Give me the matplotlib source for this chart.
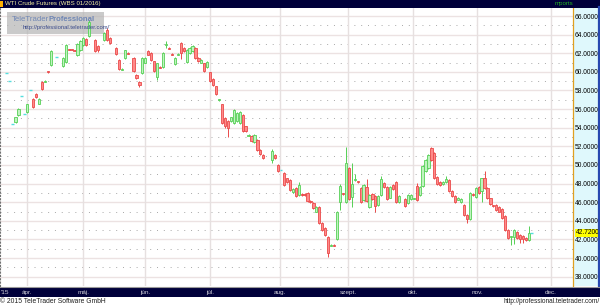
import matplotlib
matplotlib.use('Agg')
import matplotlib.pyplot as plt
from matplotlib.patches import Rectangle
from matplotlib.lines import Line2D
import matplotlib.transforms as mtransforms

# ---------------- data ----------------
title = "WTI Crude Futures (WBS 01/2016)"
days = [0, 1, 2, 3, 4, 5, 6, 7, 8, 9, 10, 11, 12, 13, 14, 15, 17, 19, 20, 21, 22, 23, 24, 25, 26, 27, 28,
        30, 31, 33, 34, 35, 37, 38, 39, 40, 41, 43, 44, 45, 46, 47, 48, 49, 50, 51, 52, 53, 54, 55, 56, 57,
        58, 59, 60, 61, 62, 63, 64, 65, 66, 67, 68, 69, 70, 71, 72, 73, 74, 75, 76, 77, 78, 79, 80, 81, 82,
        83, 84, 85, 86, 87, 90, 91, 92, 93, 94, 95, 96, 97, 98, 99, 100, 101, 102, 103, 104, 105, 106, 107,
        108, 109, 110, 111, 112, 113, 114, 115, 116, 117, 118, 119, 120, 121, 122, 123, 124, 125, 126, 127,
        128, 129, 130, 131, 132, 133, 135, 136, 137, 138, 139, 140, 141, 142, 143, 144, 145, 146, 147, 148,
        149, 150, 151, 152, 153, 154, 155, 156, 157, 158, 159, 160, 161, 162, 163, 164, 165, 166, 167, 168,
        169, 170, 171, 172, 173, 174, 175, 176, 177, 178]
opens = [59.85, 59.0, 54.4, 54.65, 55.4, 57.4, 55.5, 55.7, 58.0, 57.05, 57.6, 56.6, 58.9, 58.95, 60.05, 60.7,
         61.6, 60.6, 61.1, 62.45, 62.45, 62.35, 61.85, 62.3, 62.9, 63.55, 63.8,
         63.45, 62.75, 63.45, 64.5, 63.6, 62.55, 61.3, 60.25, 61.5, 62.05, 61.5, 59.7, 58.9, 59.9, 60.95,
         62.2, 62.0, 61.15, 59.5, 60.55, 60.5, 62.85, 62.6, 61.95, 60.8,
         61.85, 63.1, 62.55, 61.1, 62.0, 62.2, 62.55, 61.5, 60.95, 60.95, 60.5, 59.95, 59.2, 58.45, 56.95,
         56.5, 55.05, 54.7, 54.7, 54.5, 54.7, 54.5, 55.4, 54.15, 53.15,
         53.1, 52.5, 52.7, 51.65, 51.1, 50.5, 51.1, 50.0, 49.45, 49.1, 48.55, 48.4, 47.1, 47.5, 46.8, 46.85,
         46.9, 47.0, 46.1, 45.9, 45.0, 45.45, 43.75,
         43.2, 42.3, 41.35, 41.4, 42.0, 46.05, 46.95, 46.05, 49.65, 46.6, 48.35, 48.25, 47.5, 46.25, 47.6,
         45.5, 46.9, 46.65, 45.7, 46.8,
         48.1, 47.65, 46.5, 47.9, 48.2, 46.05, 46.3, 45.9, 46.3, 46.35, 47.75, 46.8, 47.75, 49.3, 49.65, 51.8,
         51.25, 48.75, 48.2, 47.95,
         48.2, 48.4, 47.25, 46.65, 46.25, 46.0, 45.7, 44.6, 44.15, 46.85, 46.6, 47.6, 47.25, 48.55, 47.5,
         46.4, 45.65, 45.7, 45.5, 45.25,
         44.5, 43.0, 42.25, 42.3, 42.8, 42.5, 42.4, 42.2, 41.95, 42.72]
highs = [59.9, 59.05, 54.45, 55.2, 56.1, 57.45, 55.55, 56.6, 58.05, 57.15, 57.7, 57.2, 59.0, 59.1, 60.1, 62.3,
         61.65, 61.6, 62.95, 62.5, 62.5, 62.4, 63.1, 63.45, 63.7, 63.65, 65.6,
         63.55, 62.85, 64.3, 64.7, 63.7, 62.65, 61.4, 60.4, 62.4, 62.1, 61.6, 59.8, 59.0, 61.6, 61.6,
         62.3, 62.1, 61.2, 61.0, 60.6, 62.1, 63.3, 62.7, 62.0, 61.6,
         62.0, 63.2, 62.65, 62.5, 62.65, 62.85, 62.65, 61.6, 61.4, 61.0, 61.2, 60.0, 59.3, 58.5, 57.1,
         56.6, 55.1, 54.8, 55.2, 56.05, 55.7, 55.8, 55.5, 54.2, 53.3,
         53.2, 53.3, 52.8, 51.7, 51.2, 51.7, 51.2, 50.1, 49.5, 49.2, 48.65, 48.5, 47.5, 47.6, 48.2, 46.95,
         47.0, 47.1, 46.2, 46.0, 45.6, 45.55, 43.85,
         43.3, 42.4, 41.5, 41.5, 45.1, 48.0, 47.0, 51.95, 49.8, 50.2, 49.0, 48.3, 47.6, 47.95, 48.5,
         46.9, 47.0, 46.75, 46.75, 48.85,
         48.2, 47.75, 47.7, 48.0, 48.3, 46.75, 46.4, 46.9, 46.9, 46.5, 48.1, 47.7, 50.0, 50.6, 51.2, 51.95,
         51.35, 48.85, 48.3, 48.3,
         48.8, 48.5, 47.35, 46.75, 46.6, 46.4, 45.8, 44.7, 47.05, 46.95, 47.6, 47.7, 48.65, 49.3, 47.6,
         46.5, 45.75, 45.8, 45.6, 45.35,
         44.6, 43.1, 42.4, 43.1, 42.9, 42.6, 42.5, 42.3, 43.45, 42.77]
lows = [59.8, 58.95, 54.35, 54.55, 55.3, 57.35, 55.45, 55.6, 57.95, 56.15, 57.2, 56.5, 58.1, 58.9, 59.9, 60.6,
        61.55, 60.5, 61.0, 62.3, 62.3, 62.2, 61.75, 62.2, 62.8, 62.8, 63.7,
        62.1, 62.1, 63.35, 63.35, 63.0, 61.8, 60.2, 60.2, 61.4, 61.9, 60.0, 59.2, 58.4, 59.8, 60.9,
        61.8, 61.2, 60.0, 59.1, 60.4, 60.4, 62.6, 62.45, 61.8, 60.7,
        61.8, 61.4, 62.1, 61.0, 61.9, 62.1, 61.4, 61.1, 60.9, 60.0, 60.4, 58.9, 58.5, 57.5, 56.9,
        54.4, 54.0, 53.0, 54.6, 54.4, 54.6, 54.4, 53.5, 53.5, 53.1,
        52.5, 52.4, 51.55, 51.1, 50.65, 50.2, 50.65, 49.2, 49.4, 47.75, 48.1, 47.2, 47.0, 46.6, 46.7, 46.7,
        46.7, 46.05, 45.95, 45.25, 44.9, 43.65, 42.9,
        42.4, 40.1, 41.3, 41.25, 41.9, 45.2, 46.8, 45.9, 46.2, 45.5, 48.3, 48.1, 45.95, 46.15, 46.05,
        45.4, 46.2, 45.0, 45.6, 46.7,
        47.5, 46.2, 46.4, 47.3, 45.95, 45.95, 45.5, 45.8, 46.2, 46.3, 46.15, 46.7, 47.65, 49.2, 49.55, 50.4,
        48.45, 47.9, 47.75, 47.9,
        48.1, 47.15, 46.55, 45.95, 46.2, 45.9, 44.5, 43.8, 44.05, 46.7, 46.5, 46.9, 46.0, 47.4, 46.3,
        45.7, 45.5, 45.05, 44.9, 44.2,
        42.9, 42.1, 41.4, 41.5, 42.1, 41.6, 41.6, 41.8, 41.85, 42.67]
closes = [59.85, 59.0, 54.4, 55.1, 56.0, 57.4, 55.5, 56.5, 58.0, 56.26, 57.3, 57.1, 58.2, 59.05, 59.95, 62.2,
          61.6, 61.5, 62.85, 62.35, 62.35, 62.25, 63.0, 63.35, 63.6, 62.9, 65.4,
          62.2, 62.3, 64.2, 63.45, 63.1, 61.9, 60.3, 60.35, 62.3, 61.95, 60.1, 59.3, 58.6, 61.5, 61.5,
          61.85, 61.3, 60.1, 60.95, 60.45, 62.0, 62.95, 62.5, 61.85, 61.5,
          61.95, 62.0, 62.2, 62.4, 62.55, 62.75, 61.5, 61.2, 61.3, 60.1, 61.1, 59.0, 58.6, 57.6, 57.05,
          54.5, 54.15, 54.0, 55.1, 55.95, 55.6, 55.7, 53.6, 53.6, 53.25,
          52.6, 53.25, 51.65, 51.2, 50.75, 51.5, 50.75, 49.3, 49.45, 47.85, 48.2, 47.3, 47.4, 46.7, 47.85, 46.75,
          46.8, 46.15, 46.0, 45.35, 45.5, 43.75, 43.0,
          42.5, 40.5, 41.45, 41.3, 45.0, 47.75, 46.85, 50.2, 46.3, 48.0, 48.45, 48.15, 46.05, 47.85, 46.15,
          46.8, 46.3, 45.6, 46.65, 48.45,
          47.6, 46.3, 47.6, 47.4, 46.05, 46.65, 45.6, 46.8, 46.8, 46.45, 46.25, 47.6, 49.9, 50.5, 51.1, 50.5,
          48.55, 48.0, 47.85, 48.2,
          48.45, 47.25, 46.65, 46.05, 46.5, 46.3, 44.6, 44.15, 46.95, 46.75, 47.5, 47.0, 48.55, 47.5, 46.4,
          45.8, 45.55, 45.15, 45.0, 44.3,
          43.0, 42.2, 42.35, 43.0, 42.2, 42.1, 42.0, 41.9, 42.65, 42.72]

month_ticks = [6.88, 25.9, 46.9, 68.9, 92.6, 115.8, 137.7, 159.4, 184.5]
month_labels = ["ápr.", "máj.", "jún.", "júl.", "aug.", "szept.", "okt.", "nov.", "dec."]
year_label = "'15"
price_ticks = [38, 40, 42, 44, 46, 48, 50, 52, 54, 56, 58, 60, 62, 64, 66]
grid_odd = [37, 39, 41, 43, 45, 47, 49, 51, 53, 55, 57, 59, 61, 63, 65]

# ---------------- styling ----------------
FONT = 'Liberation Sans'
plt.rcParams['font.family'] = [FONT, 'DejaVu Sans']
W, H = 600, 306
NAVY = '#00003a'
UP_FILL, UP_EDGE = '#bff3bf', '#55d055'
DN_FILL, DN_EDGE = '#ff8a8a', '#ea4a4a'
DOJI = '#55dede'

fig = plt.figure(figsize=(6, 3.06), dpi=100)
fig.patch.set_facecolor('white')


def fx(px):
    return px / W


def fy(py):
    return 1 - py / H


ax = fig.add_axes([0, fy(286), fx(573), fy(8) - fy(286)])
ax.set_facecolor('white')
ax.set_xlim(-2.27, 192.0)
ax.set_ylim(37.0, 66.86)

# grid
for v in price_ticks:
    ax.axhline(v, color='#ece2e2', lw=1.0, zorder=0.5)
for v in grid_odd:
    ax.axhline(v, color='#a8a8a8', lw=0.7, ls=(0, (1, 6)), zorder=0.5)
for t in month_ticks:
    ax.axvline(t, color='#e6e0e0', lw=1.0, zorder=0.6)

# candles
for d, o, h, l, c in zip(days, opens, highs, lows, closes):
    if o == c:
        ax.hlines(c, d - 0.5, d + 0.5, color=DOJI, lw=1.0, zorder=3)
        continue
    up = c > o
    fill = UP_FILL if up else DN_FILL
    edge = UP_EDGE if up else DN_EDGE
    ax.vlines(d, l, h, color=edge, lw=0.7, zorder=2)
    ax.bar(d, abs(c - o), bottom=min(o, c), width=0.75, color=fill, edgecolor=edge,
           linewidth=0.6, zorder=3)

# axes / ticks
for s in ['top', 'bottom']:
    ax.spines[s].set_visible(False)
ax.spines['left'].set_color('#707070')
ax.spines['left'].set_linestyle((0, (1, 2)))
ax.spines['left'].set_linewidth(0.8)
ax.spines['right'].set_color('#e0a020')
ax.spines['right'].set_linestyle((0, (1, 1)))
ax.spines['right'].set_linewidth(0.9)
ax.set_xticks([])
ax.yaxis.tick_right()
ax.set_yticks(price_ticks)
ax.set_yticklabels([f'{v:.4f}' for v in price_ticks])
ax.tick_params(axis='y', length=0, pad=1.5, labelsize=4.8, labelcolor='black')

# right panel background
fig.add_artist(Rectangle((fx(573), fy(286)), fx(25), fy(8) - fy(286), transform=fig.transFigure,
                         facecolor='#dff8fc', edgecolor='none', zorder=-1))
fig.add_artist(Line2D([fx(598.8), fx(598.8)], [fy(287), fy(7)], transform=fig.transFigure,
                      color='#2848b0', lw=1.6))

# last price label
last = closes[-1]
trans_r = mtransforms.blended_transform_factory(ax.transAxes, ax.transData)
ax.text(1.0 + 2.5 / 573, last, f'{last:.4f}', transform=trans_r, ha='left', va='center', fontsize=4.8,
        color='black', zorder=10, clip_on=False,
        bbox=dict(facecolor='#ffff00', edgecolor='none', pad=0.4))

# top bar
fig.add_artist(Rectangle((0, fy(7.5)), 1, fy(0) - fy(7.5), transform=fig.transFigure,
                         facecolor=NAVY, edgecolor='none'))
fig.add_artist(Rectangle((0, fy(6.5)), fx(3), fy(1) - fy(6.5), transform=fig.transFigure,
                         facecolor='#ffb000', edgecolor='none'))
fig.text(fx(5), fy(3.8), title, color='#f4f0a0', fontsize=4.4, ha='left', va='center')
fig.text(fx(573), fy(3.8), 'mports', color='#22b022', fontsize=4.4, ha='right', va='center')

# bottom band
fig.add_artist(Line2D([0, 1], [fy(286.5), fy(286.5)], transform=fig.transFigure, color='#9a9a9a', lw=0.8))
fig.add_artist(Rectangle((0, fy(297)), 1, fy(287.3) - fy(297), transform=fig.transFigure,
                         facecolor=NAVY, edgecolor='none'))
trans_m = mtransforms.blended_transform_factory(ax.transData, fig.transFigure)
for t, lab in zip(month_ticks, month_labels):
    fig.text(t, fy(292.2), lab, transform=trans_m, color='#cfcfd8', fontsize=4.6, ha='center', va='center')
fig.text(fx(1), fy(292.2), year_label, color='#cfcfd8', fontsize=4.6, ha='left', va='center')

fig.text(fx(0.5), fy(301.5), '© 2015 TeleTrader Software GmbH', color='#202020', fontsize=4.9,
         ha='left', va='center')
fig.text(fx(599.5), fy(301.8), 'http://professional.teletrader.com/', color='#202020', fontsize=4.7,
         ha='right', va='center')

# watermark
ax.add_patch(Rectangle((fx(7), fy(34)), fx(97), fy(12) - fy(34), transform=fig.transFigure,
                       facecolor='#b4b4b4', edgecolor='none', alpha=0.7, zorder=1, clip_on=False))
fig.text(fx(12), fy(19.5), 'TeleTrader', color='#6f86b4', fontsize=5.6, ha='left', va='center')
fig.text(fx(48.5), fy(19.5), 'Professional', color='#6f86b4', fontsize=5.6, fontweight='bold',
         ha='left', va='center')
fig.text(fx(23), fy(27.6), 'http://professional.teletrader.com/', color='#3a4a8a', fontsize=4.2,
         ha='left', va='center')

fig.savefig('out.png', dpi=100)
